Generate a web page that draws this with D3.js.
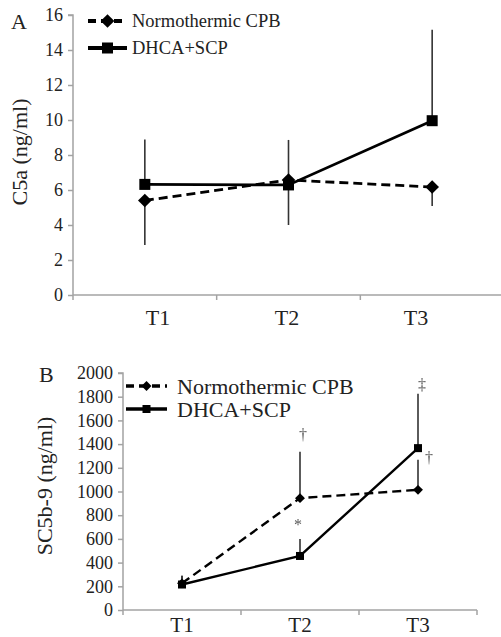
<!DOCTYPE html>
<html>
<head>
<meta charset="utf-8">
<script src="https://cdn.jsdelivr.net/npm/d3@7"></script>
<style>
  body { margin: 0; background: #fff; }
  svg text { font-family: "Liberation Serif", "Times New Roman", serif; fill: #222; }
  .note { filter: grayscale(1); opacity: 0.98; }
</style>
</head>
<body>
<div id="chart"></div>
<script>
const categories = ['T1', 'T2', 'T3'];
const seriesNames = ['Normothermic CPB', 'DHCA+SCP'];

// panel A: C5a (ng/ml)
const c5aNormo = [5.4, 6.57, 6.17];
const c5aNormoErrDown = [2.54, 2.57, 1.08];
const c5aDhca = [6.32, 6.29, 9.96];
const c5aDhcaErrUp = [2.56, 2.57, 5.2];
const c5aTicks = [0, 2, 4, 6, 8, 10, 12, 14, 16];

// panel B: SC5b-9 (ng/ml)
const sc5Normo = [225, 944, 1014];
const sc5NormoErrUp = [65, 391, 253];
const sc5Dhca = [215, 456, 1366];
const sc5DhcaErrUp = [75, 144, 459];
const sc5Ticks = [0, 200, 400, 600, 800, 1000, 1200, 1400, 1600, 1800, 2000];
const sc5Notes = [
  { cat: 'T2', value: 1480, text: '\u2020', dx: 3 },
  { cat: 'T2', value: 718, text: '*', dx: -2 },
  { cat: 'T3', value: 1900, text: '\u2021', dx: 4 },
  { cat: 'T3', value: 1284, text: '\u2020', dx: 11 }
];

const svg = d3.select('#chart').append('svg')
  .attr('width', 501).attr('height', 637);

function drawPanel(cfg) {
  const g = svg.append('g');
  const x = d3.scaleBand().domain(categories).range([cfg.left, cfg.right]);
  const y = d3.scaleLinear().domain(cfg.domain).range([cfg.bottom, cfg.top]);
  const cx = c => x(c) + x.bandwidth() / 2;
  const axisColor = '#a3a3a3';

  // y axis
  const yAxis = g.append('g')
    .attr('transform', `translate(${cfg.left},0)`)
    .call(d3.axisLeft(y).tickValues(cfg.ticks).tickSize(5).tickPadding(5).tickFormat(d3.format('d')));
  yAxis.selectAll('path, line').attr('stroke', axisColor).attr('stroke-width', 1.5);
  yAxis.select('.domain').attr('d', `M-5,${y(cfg.domain[1])}H0V${y(0)}`);
  yAxis.selectAll('text').style('font-size', '18px')
    .style('font-family', '"Liberation Serif", serif');

  // x axis, ticks on category borders
  g.append('line')
    .attr('x1', cfg.left).attr('x2', cfg.right)
    .attr('y1', y(0)).attr('y2', y(0))
    .attr('stroke', axisColor).attr('stroke-width', 1.5);
  const borders = categories.map(c => x(c)).concat([x(categories[categories.length - 1]) + x.bandwidth()]);
  g.selectAll('.xtick').data(borders).join('line')
    .attr('x1', d => d).attr('x2', d => d)
    .attr('y1', y(0)).attr('y2', y(0) + 5)
    .attr('stroke', axisColor).attr('stroke-width', 1.5);
  const xl = cfg.labelScale || cx;
  g.selectAll('.xlab').data(categories).join('text')
    .attr('x', d => xl(d)).attr('y', cfg.xLabelY)
    .attr('text-anchor', 'middle')
    .style('font-size', cfg.xLabelFont + 'px')
    .text(d => d);

  // y title + panel letter
  g.append('text')
    .attr('transform', `translate(${cfg.yTitleX},${cfg.yTitleY}) rotate(-90)`)
    .attr('text-anchor', 'middle')
    .attr('dominant-baseline', 'middle')
    .style('font-size', '22px')
    .text(cfg.yTitle);
  g.append('text')
    .attr('x', cfg.letterX).attr('y', cfg.letterY)
    .style('font-size', '22px')
    .text(cfg.letter);

  // error bars
  cfg.series.forEach(s => {
    g.selectAll(null).data(categories).join('line')
      .attr('x1', d => cx(d)).attr('x2', d => cx(d))
      .attr('y1', (d, i) => y(s.values[i]))
      .attr('y2', (d, i) => y(s.values[i] + s.errSign * s.err[i]))
      .attr('stroke', '#333').attr('stroke-width', 1.6);
  });

  // lines and markers
  const line = d3.line().x((d, i) => cx(categories[i])).y(d => y(d));
  cfg.series.forEach(s => {
    g.append('path').datum(s.values)
      .attr('d', line)
      .attr('fill', 'none').attr('stroke', '#000')
      .attr('stroke-width', cfg.lineWidth)
      .attr('stroke-dasharray', s.dashed ? cfg.dash : null);
    drawMarkers(g, s.values.map((v, i) => [cx(categories[i]), y(v)]), s.dashed, cfg.markerSize);
  });

  // legend
  cfg.series.forEach((s, i) => {
    const ly = cfg.legendY + i * cfg.legendGap;
    g.append('line')
      .attr('x1', cfg.legendX).attr('x2', cfg.legendX + cfg.legendLen)
      .attr('y1', ly).attr('y2', ly)
      .attr('stroke', '#000').attr('stroke-width', cfg.lineWidth + 1)
      .attr('stroke-dasharray', s.dashed ? cfg.legendDash : null);
    drawMarkers(g, [[cfg.legendX + cfg.legendLen / 2, ly]], s.dashed, cfg.markerSize);
    g.append('text')
      .attr('x', cfg.legendX + cfg.legendLen + cfg.legendTextGap).attr('y', ly)
      .attr('dominant-baseline', 'central')
      .style('font-size', cfg.legendFont + 'px')
      .text(s.name);
  });

  // significance marks
  const notes = g.append('g').attr('class', 'note');
  (cfg.notes || []).forEach(n => {
    notes.append('text')
      .attr('x', cx(n.cat) + n.dx).attr('y', y(n.value))
      .attr('text-anchor', 'middle').attr('dominant-baseline', 'central')
      .style('font-size', '16px')
      .style('fill', '#555')
      .text(n.text);
  });
}

function drawMarkers(g, pts, diamond, size) {
  if (diamond) {
    const r = size * 0.62;
    g.selectAll(null).data(pts).join('path')
      .attr('d', d => `M${d[0]},${d[1] - r}L${d[0] + r},${d[1]}L${d[0]},${d[1] + r}L${d[0] - r},${d[1]}Z`)
      .attr('fill', '#000');
  } else {
    g.selectAll(null).data(pts).join('rect')
      .attr('x', d => d[0] - size / 2).attr('y', d => d[1] - size / 2)
      .attr('width', size).attr('height', size)
      .attr('fill', '#000');
  }
}

drawPanel({
  left: 73, right: 504, top: 15, bottom: 295, domain: [0, 16], ticks: c5aTicks,
  xLabelY: 325, xLabelFont: 22,
  labelScale: d3.scalePoint().domain(categories).range([158, 416]),
  yTitle: 'C5a (ng/ml)', yTitleX: 22, yTitleY: 152,
  letter: 'A', letterX: 11, letterY: 29,
  lineWidth: 2.8, dash: '9,5', legendDash: '8,5', markerSize: 11,
  legendX: 88, legendLen: 39, legendY: 21, legendGap: 27, legendTextGap: 5, legendFont: 18.5,
  series: [
    { name: seriesNames[0], values: c5aNormo, err: c5aNormoErrDown, errSign: -1, dashed: true },
    { name: seriesNames[1], values: c5aDhca, err: c5aDhcaErrUp, errSign: 1, dashed: false }
  ]
});

drawPanel({
  left: 123, right: 477, top: 373, bottom: 610, domain: [0, 2000], ticks: sc5Ticks,
  xLabelY: 632, xLabelFont: 21,
  yTitle: 'SC5b-9 (ng/ml)', yTitleX: 47, yTitleY: 486,
  letter: 'B', letterX: 39, letterY: 382,
  lineWidth: 2.4, dash: '9,5', legendDash: '8,5', markerSize: 8,
  legendX: 126, legendLen: 41, legendY: 386, legendGap: 23, legendTextGap: 10, legendFont: 22,
  notes: sc5Notes,
  series: [
    { name: seriesNames[0], values: sc5Normo, err: sc5NormoErrUp, errSign: 1, dashed: true },
    { name: seriesNames[1], values: sc5Dhca, err: sc5DhcaErrUp, errSign: 1, dashed: false }
  ]
});
</script>
</body>
</html>
